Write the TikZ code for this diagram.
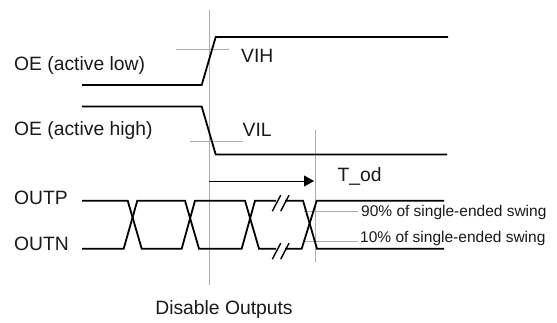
\documentclass[tikz,border=0pt]{standalone}
\usepackage{fontspec}
\setmainfont{Liberation Sans}
\usetikzlibrary{arrows.meta}
\usetikzlibrary{positioning}
\definecolor{mgrey}{rgb}{0.68, 0.68, 0.68}
\tikzset{trace/.style = {line width=1.8pt, black, line join=miter},
         guide/.style = {line width=1pt, mgrey},
         breakmark/.style = {line width=1.4pt, black},
         lbl/.style = {inner sep=0pt, font=\fontsize{19.3}{22}\selectfont, text=black!90},
         smalllbl/.style = {inner sep=0pt, font=\fontsize{15.5}{18}\selectfont, text=black!90}}

\begin{document}
\begin{tikzpicture}[x=1pt, y=-1pt]
    \useasboundingbox (0, 0) rectangle (557, 322);

    % guides
    \draw [guide] (209, 10) -- (209, 285);
    \draw [guide] (315.7, 130) -- (315.7, 262);
    \draw [guide] (176, 49) -- (229, 49);
    \draw [guide] (190, 141) -- (243, 141);
    \draw [guide] (304, 211) -- (358, 211);
    \draw [guide] (304, 241) -- (358, 241);

    % enable signals
    \draw [trace] (82, 85) -- (201.7, 85) -- (215.7, 37) -- (448, 37);
    \draw [trace] (82, 106.5) -- (201.7, 106.5) -- (215.7, 154.5) -- (447, 154.5);

    % outputs
    \draw [trace] (82, 200.7) -- (127.7, 200.7) -- (141.7, 248.7) -- (181.7, 248.7) -- (195, 200.7) -- (245, 200.7) -- (259, 248.7) -- (276, 248.7);
    \draw [trace] (82, 248.7) -- (123.7, 248.7) -- (137.3, 200.7) -- (185, 200.7) -- (199, 248.7) -- (241.7, 248.7) -- (255, 200.7) -- (276, 200.7);
    \draw [trace] (285, 200.7) -- (303, 200.7) -- (317, 248.7) -- (444, 248.7);
    \draw [trace] (285, 248.7) -- (301.7, 248.7) -- (316.7, 200.7) -- (444, 200.7);

    % breaks
    \foreach \yb in {200.7, 248.7} {
      \draw [breakmark] (272.3, \yb+10.5) -- (280.7, \yb-5.5);
      \draw [breakmark] (280.7, \yb+10.5) -- (289, \yb-5.5);
    }

    \draw [-{Triangle[length=10pt, width=11pt]}, line width=0.8pt] (209, 181) -- (314, 181);

    \node [lbl, anchor=west] (oelow) at (14, 66) {OE (active low)};
    \node [lbl, anchor=west] (oehigh) at (14, 131) {OE (active high)};
    \node [lbl, anchor=west] (outp) at (14, 197.7) {OUTP};
    \node [lbl, anchor=west] (outn) at (14, 244.3) {OUTN};
    \node [lbl, anchor=west] (vih) at (241, 56) {VIH};
    \node [lbl, anchor=west] (vil) at (242.5, 130) {VIL};
    \node [lbl, anchor=west] (tod) at (337.5, 176) {T\_od};
    \node [lbl] (disable) at (224, 310) {Disable Outputs};
    \node [smalllbl, anchor=west] (swingh) at (361, 212) {90\% of single-ended swing};
    \node [smalllbl, anchor=west] (swingl) at (360, 238) {10\% of single-ended swing};
\end{tikzpicture}
\end{document}
